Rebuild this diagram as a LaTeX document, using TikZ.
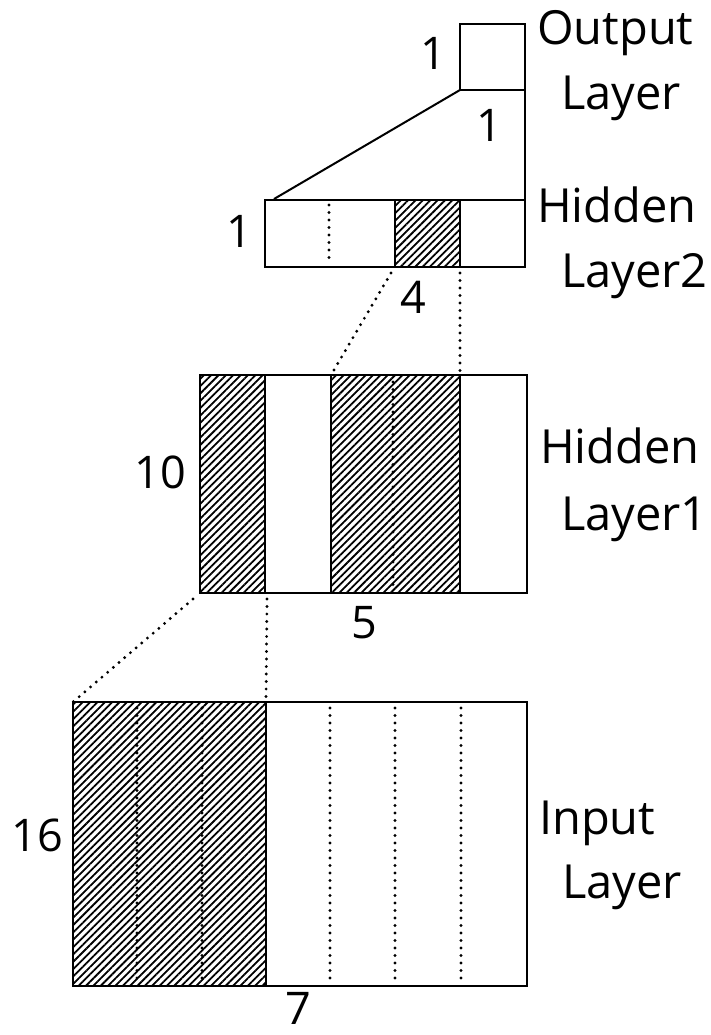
\documentclass[tikz,border=0pt]{standalone}
\usepackage{fontspec}
\setmainfont{Open Sans}
\usetikzlibrary{patterns.meta}
\tikzset{
  box/.style={draw, line width=2.4pt},
  thinline/.style={draw, line width=2pt},
  hatch/.style={pattern={Lines[angle=45,distance=5.2pt,line width=1.8pt]}},
  dots/.style={line width=3.2pt, dash pattern=on 0pt off 7.5pt, line cap=round},
  lbl/.style={font=\fontsize{47}{54}\selectfont, inner sep=0pt, anchor=base west},
  num/.style={font=\fontsize{45}{50}\selectfont, inner sep=0pt},
}
\begin{document}
\begin{tikzpicture}[x=1pt,y=-1pt]
\path[use as bounding box, fill=white] (0,0) rectangle (710,1035);

% ---- corner coordinates ----
% output layer
\coordinate (oTL) at (460,24);  \coordinate (oBR) at (525,90);
\coordinate (oBL) at (460,90);
% hidden layer 2
\coordinate (aTL) at (265,200); \coordinate (aBR) at (525,267);
\coordinate (aTR) at (525,200); \coordinate (aDiag) at (274,199);
\coordinate (aH1) at (395,200); \coordinate (aH2) at (460,267);
% hidden layer 1
\coordinate (bTL) at (200,375); \coordinate (bBR) at (527,593);
\coordinate (bT330) at (331,375); \coordinate (bT460) at (460,375);
% input layer
\coordinate (cTL) at (73,702); \coordinate (cBR) at (527,986);
\coordinate (cT266) at (266,702);

% ---- hatched regions ----
\fill[hatch] (aH1) rectangle (aH2);
\fill[hatch] (bTL) rectangle (265,593);
\fill[hatch] (331,375) rectangle (460,593);
\fill[hatch] (cTL) rectangle (266,986);

% ---- internal dotted dividers ----
\draw[dots] (329,205) -- (329,263);
\draw[dots] (393,382) -- (393,588);
\foreach \x in {137,202,330,395,461} \draw[dots] (\x,708) -- (\x,981);

% ---- internal solid dividers ----
\draw[line width=2.2pt] (395,200) -- (395,267);
\draw[line width=2.2pt] (460,200) -- (460,267);
\draw[line width=2.2pt] (265,375) -- (265,593);
\draw[line width=2.2pt] (331,375) -- (331,593);
\draw[line width=2.2pt] (460,375) -- (460,593);
\draw[line width=2.2pt] (266,702) -- (266,986);

% ---- boxes ----
\draw[box] (oTL) rectangle (oBR);
\draw[box] (aTL) rectangle (aBR);
\draw[box] (bTL) rectangle (bBR);
\draw[box] (cTL) rectangle (cBR);

% ---- connectors ----
\draw[thinline] (oBL) -- (aDiag);
\draw[box] (oBR) -- (aTR);
\draw[dots] (391,273) -- (bT330);
\draw[dots] (460,273) -- (bT460);
\draw[dots] (193,599) -- (cTL);
\draw[dots] (267,599) -- (cT266);

% ---- size labels ----
\node[num] (n1) at (433,53) {1};
\node[num] (n2) at (489,125) {1};
\node[num] (n3) at (239,231) {1};
\node[num] (n4) at (413,297) {4};
\node[num] (n10) at (160,472) {10};
\node[num] (n5) at (364,623) {5};
\node[num] (n16) at (37,835) {16};
\node[num] (n7) at (298,1008) {7};

% ---- layer names ----
\node[lbl] (t1) at (537,45) {Output};
\node[lbl] (t2) at (561,110) {Layer};
\node[lbl] (t3) at (537,222) {Hidden};
\node[lbl] (t4) at (561,287) {Layer2};
\node[lbl] (t5) at (540,463) {Hidden};
\node[lbl] (t6) at (561,530) {Layer1};
\node[lbl] (t7) at (539,834) {Input};
\node[lbl] (t8) at (562,898) {Layer};
\end{tikzpicture}
\end{document}
